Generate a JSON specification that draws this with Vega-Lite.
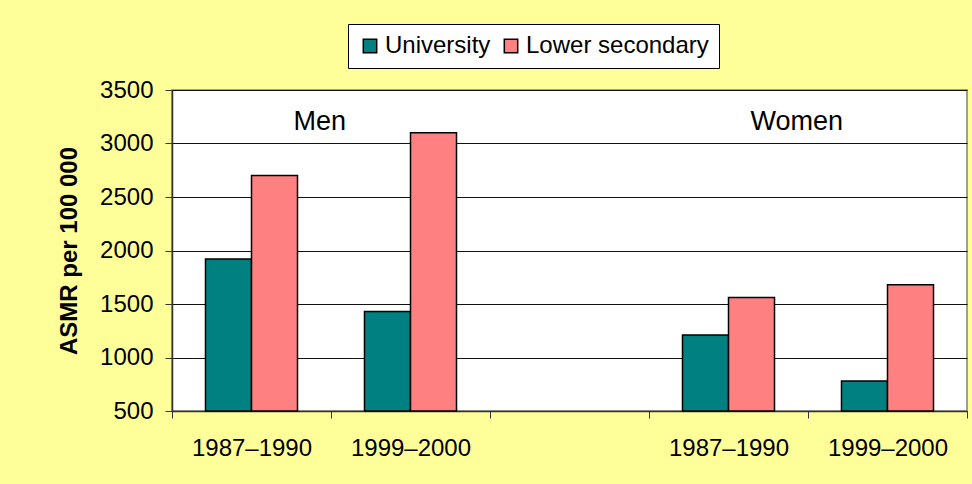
{
  "$schema": "https://vega.github.io/schema/vega-lite/v6.json",
  "autosize": {"type": "none"},
  "width": 795,
  "height": 321,
  "padding": {"left": 172, "top": 90, "right": 5, "bottom": 73},
  "background": "#FFFF99",
  "config": {
    "font": "Liberation Sans",
    "view": {"fill": "white", "stroke": "#808080", "strokeWidth": 1.5}
  },
  "datasets": {
    "bars": [
      {"slot": "Men 1987–1990", "level": "University", "value": 1920},
      {"slot": "Men 1987–1990", "level": "Lower secondary", "value": 2700},
      {"slot": "Men 1999–2000", "level": "University", "value": 1430},
      {"slot": "Men 1999–2000", "level": "Lower secondary", "value": 3100},
      {"slot": "Women 1987–1990", "level": "University", "value": 1210},
      {"slot": "Women 1987–1990", "level": "Lower secondary", "value": 1560},
      {"slot": "Women 1999–2000", "level": "University", "value": 780},
      {"slot": "Women 1999–2000", "level": "Lower secondary", "value": 1680}
    ],
    "labels": [
      {"slot": "Men 1987–1990", "label": "Men"},
      {"slot": "Women 1987–1990", "label": "Women"}
    ]
  },
  "layer": [
    {
      "data": {"name": "bars"},
      "mark": {"type": "bar", "stroke": "#000", "strokeWidth": 1.5},
      "encoding": {
        "x": {
          "field": "slot",
          "type": "nominal",
          "scale": {
            "domain": ["Men 1987–1990", "Men 1999–2000", "gap", "Women 1987–1990", "Women 1999–2000"],
            "paddingInner": 0,
            "paddingOuter": 0
          },
          "axis": {
            "title": null,
            "labelAngle": 0,
            "labelFontSize": 24,
            "labelColor": "#000",
            "labelPadding": 18,
            "labelExpr": "('' + datum.label) == 'gap' ? '' : replace(replace('' + datum.label, 'Women ', ''), 'Men ', '')",
            "tickBand": "extent",
            "tickSize": 7,
            "tickColor": "#333",
            "domainColor": "#333",
            "domainWidth": 1.5,
            "grid": false
          }
        },
        "xOffset": {
          "field": "level",
          "type": "nominal",
          "sort": ["University", "Lower secondary"],
          "scale": {"paddingInner": 0, "paddingOuter": 0.728}
        },
        "y": {
          "field": "value",
          "type": "quantitative",
          "scale": {"domain": [500, 3500], "zero": false, "nice": false},
          "axis": {
            "title": "ASMR per 100 000",
            "titleFontSize": 24,
            "titleFontWeight": "bold",
            "titleColor": "#000",
            "titlePadding": 18,
            "values": [500, 1000, 1500, 2000, 2500, 3000, 3500],
            "format": "d",
            "labelFontSize": 24,
            "labelColor": "#000",
            "labelPadding": 12,
            "tickSize": 7,
            "tickColor": "#333",
            "domainColor": "#333",
            "domainWidth": 1.5,
            "grid": true,
            "gridColor": "#111",
            "gridWidth": 1
          }
        },
        "y2": {"datum": 500},
        "color": {
          "field": "level",
          "type": "nominal",
          "sort": ["University", "Lower secondary"],
          "scale": {"domain": ["University", "Lower secondary"], "range": ["#008080", "#FF8080"]},
          "legend": {
            "title": null,
            "orient": "none",
            "legendX": 176,
            "legendY": -66,
            "direction": "horizontal",
            "fillColor": "white",
            "strokeColor": "#000",
            "padding": 10,
            "symbolType": "square",
            "symbolSize": 180,
            "symbolStrokeColor": "#000",
            "symbolStrokeWidth": 1.5,
            "symbolOpacity": 1,
            "labelFontSize": 24,
            "labelColor": "#000",
            "labelOffset": 3,
            "labelLimit": 400,
            "columnPadding": 8
          }
        }
      }
    },
    {
      "data": {"name": "labels"},
      "mark": {"type": "text", "fontSize": 27, "color": "#000", "align": "center", "baseline": "middle"},
      "encoding": {
        "x": {"field": "slot", "type": "nominal", "bandPosition": 0.93},
        "y": {"datum": 3200},
        "text": {"field": "label"}
      }
    }
  ]
}
